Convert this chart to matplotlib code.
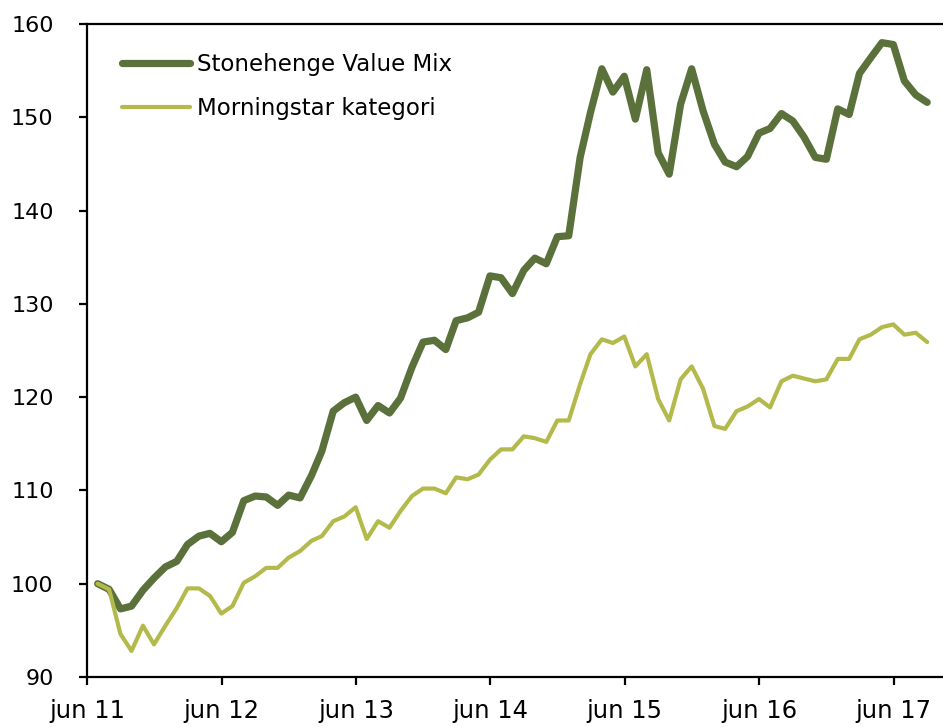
import numpy as np
import pandas as pd
import matplotlib
matplotlib.use("Agg")
import matplotlib.pyplot as plt
import matplotlib.dates as mdates

# monthly index values, end of month, jun 2011 - aug 2017
dates = pd.date_range("2011-06-30", periods=75, freq="ME")

stonehenge = [
    100.0, 99.4, 97.3, 97.6, 99.3, 100.6, 101.8,
    102.4, 104.2, 105.1, 105.4, 104.5, 105.5, 108.9, 109.4, 109.3, 108.4, 109.5, 109.2,
    111.6, 114.2, 118.5, 119.4, 120.0, 117.5, 119.1, 118.3, 119.9, 123.2, 125.9, 126.1,
    125.1, 128.2, 128.5, 129.1, 133.0, 132.8, 131.1, 133.6, 134.9, 134.3, 137.2, 137.3,
    145.7, 150.5, 155.2, 152.7, 154.4, 149.8, 155.1, 146.2, 143.9, 151.4, 155.2, 150.7,
    147.1, 145.2, 144.7, 145.8, 148.3, 148.8, 150.4, 149.6, 147.9, 145.7, 145.5, 150.9,
    150.3, 154.7, 156.4, 158.0, 157.8, 153.9, 152.4, 151.6,
]

morningstar = [
    100.0, 99.4, 94.6, 92.8, 95.5, 93.5, 95.5,
    97.4, 99.5, 99.5, 98.7, 96.8, 97.6, 100.1, 100.8, 101.7, 101.7, 102.8, 103.5,
    104.6, 105.1, 106.7, 107.2, 108.2, 104.8, 106.7, 106.0, 107.8, 109.4, 110.2, 110.2,
    109.7, 111.4, 111.2, 111.7, 113.3, 114.4, 114.4, 115.8, 115.6, 115.2, 117.5, 117.5,
    121.4, 124.6, 126.2, 125.8, 126.5, 123.3, 124.6, 119.8, 117.5, 121.9, 123.3, 120.9,
    116.9, 116.6, 118.5, 119.0, 119.8, 118.9, 121.7, 122.3, 122.0, 121.7, 121.9, 124.1,
    124.1, 126.2, 126.7, 127.5, 127.8, 126.7, 126.9, 125.9,
]

labels = ["Stonehenge Value Mix", "Morningstar kategori"]
tick_years = [2011, 2012, 2013, 2014, 2015, 2016, 2017]
tick_labels = ["jun 11", "jun 12", "jun 13", "jun 14", "jun 15", "jun 16", "jun 17"]

plt.rcParams["font.family"] = ["DejaVu Sans"]

fig = plt.figure(figsize=(9.43, 7.27), dpi=100)
ax = fig.add_axes([87 / 943, 50 / 727, 856 / 943, 653 / 727])

ax.plot(dates, stonehenge, color="#5b713b", lw=5.2, solid_joinstyle="round",
        solid_capstyle="round", label=labels[0])
ax.plot(dates, morningstar, color="#b3ba4b", lw=3.0, solid_joinstyle="round",
        solid_capstyle="round", label=labels[1])

ticks = [pd.Timestamp(f"{y}-06-01") for y in tick_years]
ax.set_xticks(ticks)
ax.set_xticklabels(tick_labels)
ax.set_xlim(pd.Timestamp("2011-06-01"), pd.Timestamp("2017-10-13"))
ax.set_ylim(90, 160)
ax.set_yticks(range(90, 161, 10))

ax.spines["right"].set_visible(False)
for s in ["left", "bottom", "top"]:
    ax.spines[s].set_linewidth(1.6)
ax.tick_params(axis="both", direction="out", length=6, width=1.6)
ax.tick_params(axis="y", pad=18, labelsize=16)
ax.tick_params(axis="x", pad=10, labelsize=17.5)

leg = ax.legend(loc="upper left", bbox_to_anchor=(0.041, 0.955), frameon=False,
                fontsize=16.5, handlelength=2.95, handletextpad=0.3,
                labelspacing=0.9, borderpad=0, borderaxespad=0)

fig.savefig("out.png", dpi=100)
